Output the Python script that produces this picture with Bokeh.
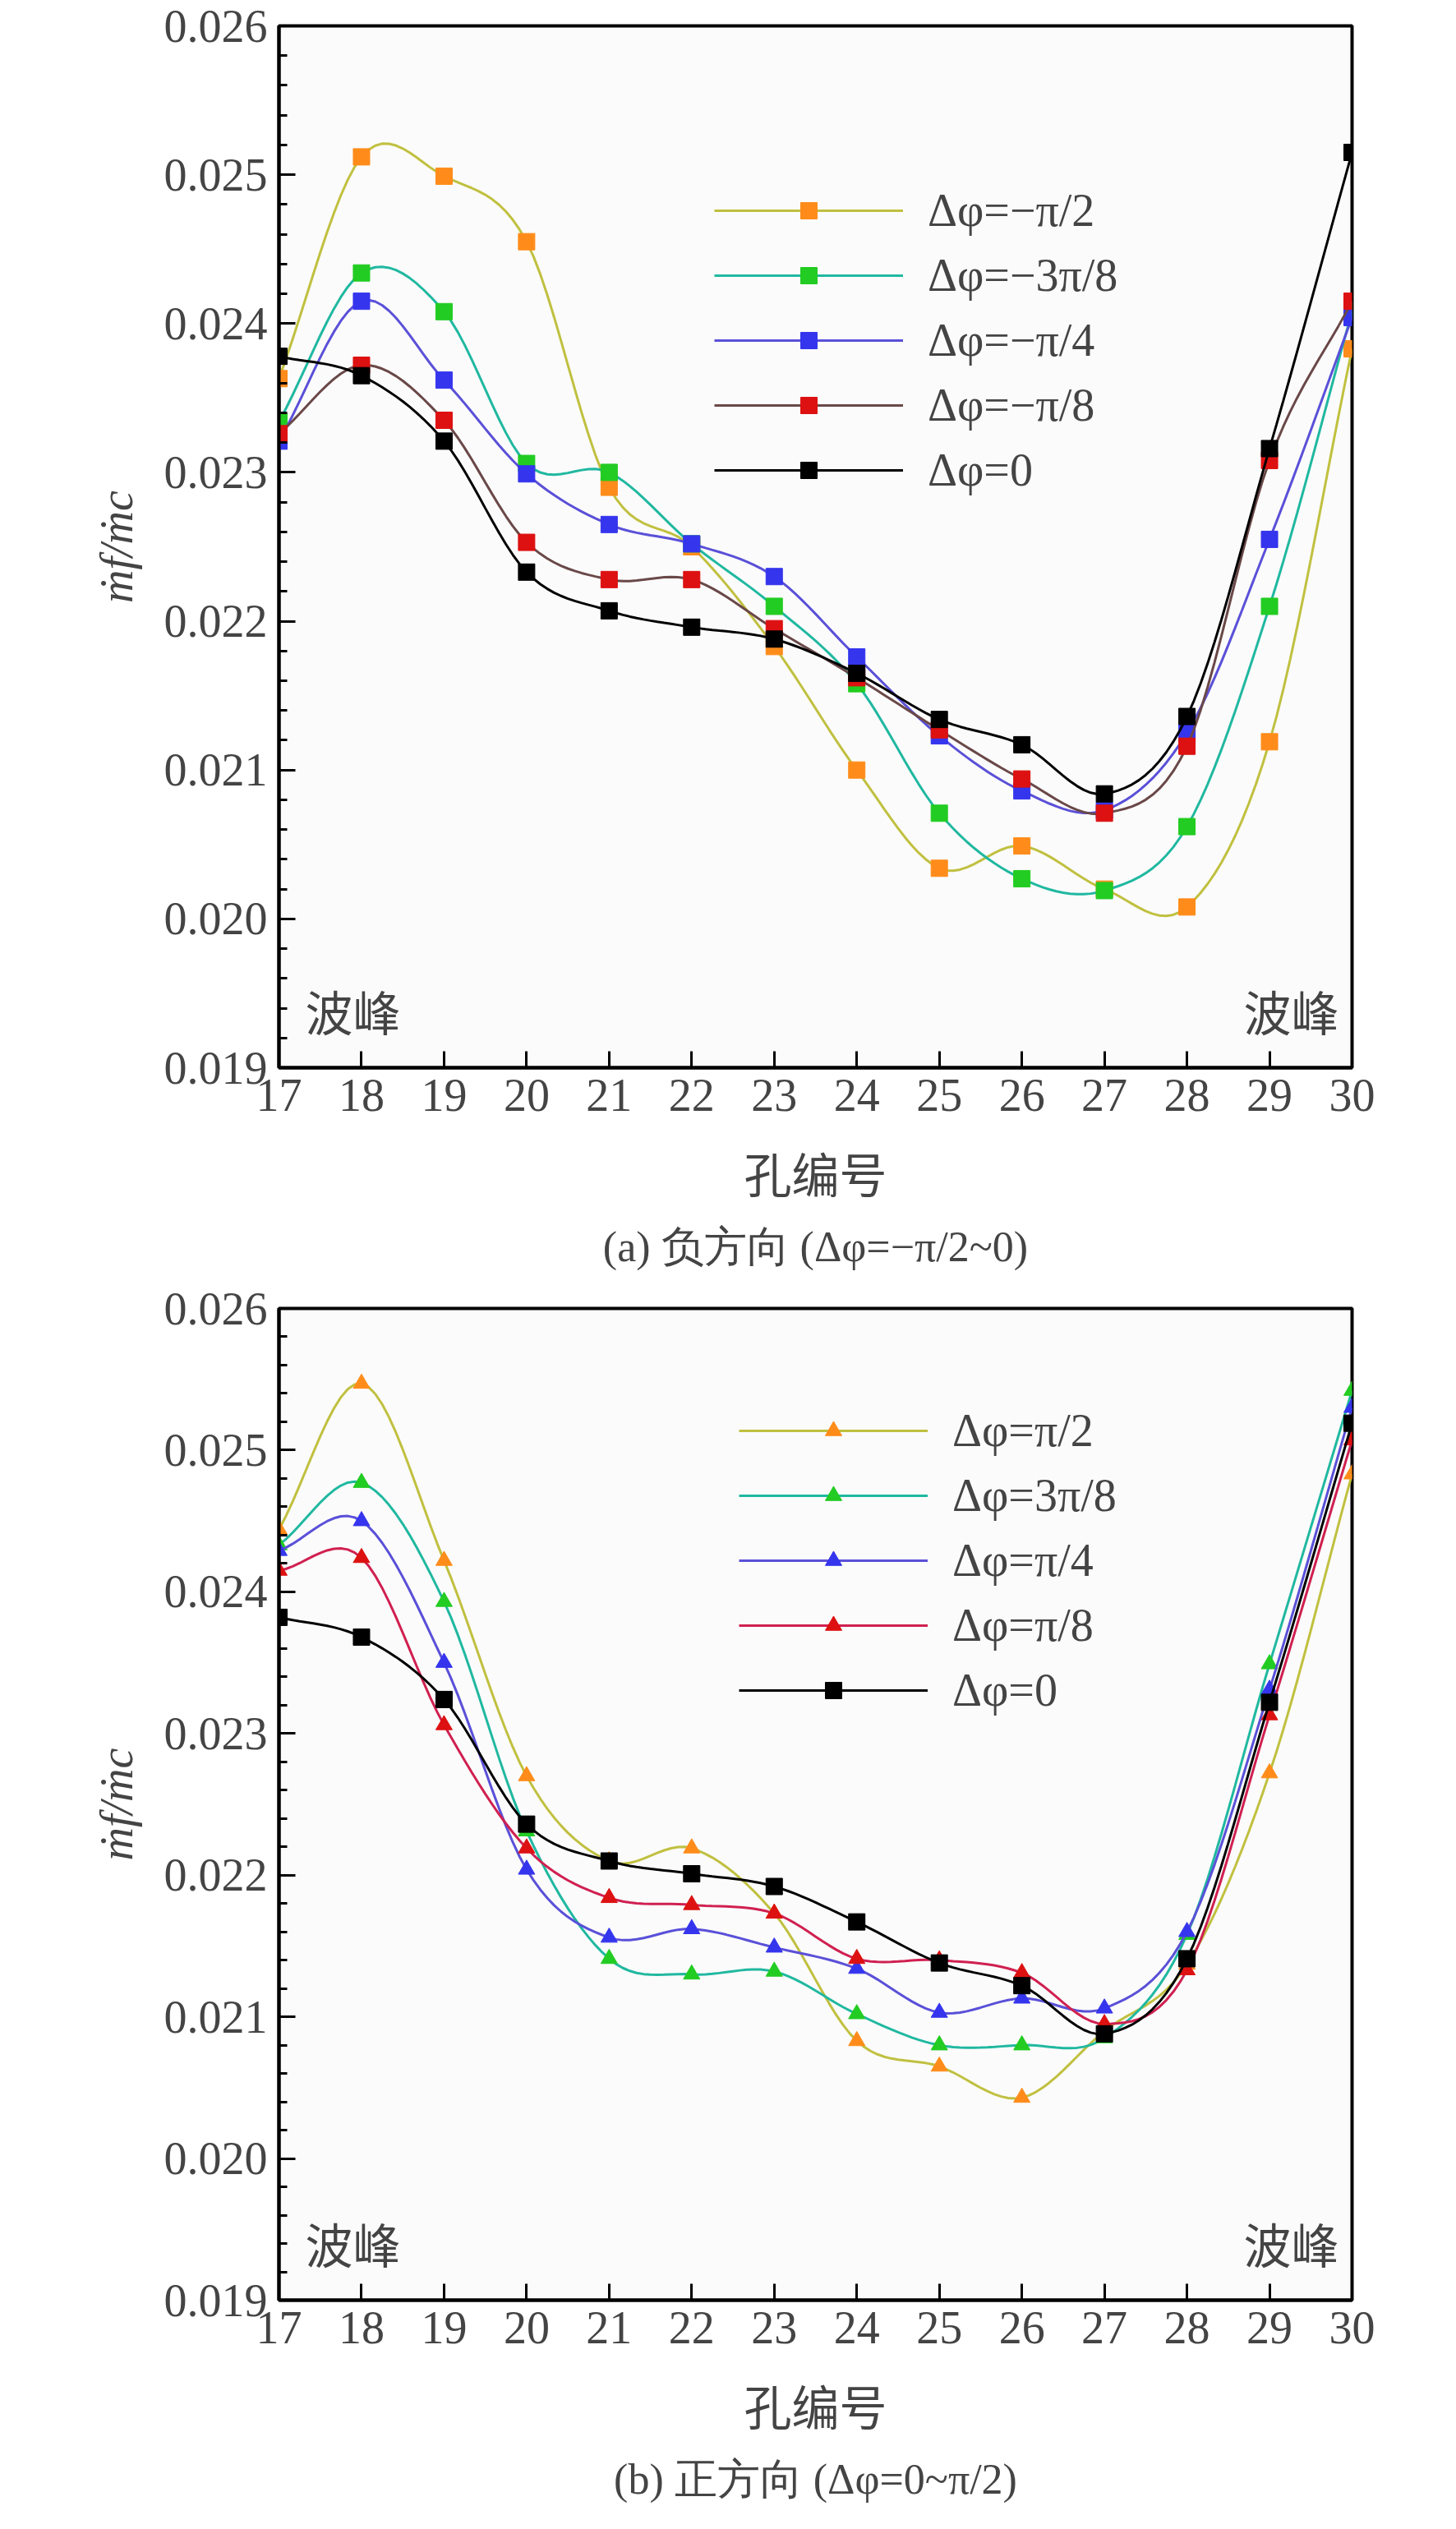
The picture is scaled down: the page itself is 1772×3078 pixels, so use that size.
import numpy as np
from bokeh.plotting import figure
from bokeh.layouts import column
from bokeh.models import (Label, Legend, LegendItem, SingleIntervalTicker, FixedTicker,
                          NumeralTickFormatter, Title)
from bokeh.embed import file_html
from bokeh.resources import INLINE

holes = list(range(17, 31))
y_ticks = [0.019, 0.020, 0.021, 0.022, 0.023, 0.024, 0.025, 0.026]

# (a) negative direction
neg_labels = ["Δφ=−π/2", "Δφ=−3π/8", "Δφ=−π/4", "Δφ=−π/8", "Δφ=0"]
neg_pi2 = [0.02363, 0.02512, 0.02499, 0.02455, 0.02290, 0.02250, 0.02183,
           0.02100, 0.02034, 0.02049, 0.02020, 0.02008, 0.02119, 0.02383]
neg_3pi8 = [0.02334, 0.02434, 0.02408, 0.02306, 0.02300, 0.02252, 0.02210,
            0.02158, 0.02071, 0.02027, 0.02019, 0.02062, 0.02210, 0.02408]
neg_pi4 = [0.02321, 0.02415, 0.02362, 0.02299, 0.02265, 0.02252, 0.02230,
           0.02176, 0.02123, 0.02086, 0.02073, 0.02125, 0.02255, 0.02404]
neg_pi8 = [0.02326, 0.02372, 0.02335, 0.02253, 0.02228, 0.02228, 0.02195,
           0.02162, 0.02127, 0.02094, 0.02071, 0.02116, 0.02308, 0.02415]
zero_a = [0.02378, 0.02365, 0.02321, 0.02233, 0.02207, 0.02196, 0.02188,
          0.02165, 0.02134, 0.02117, 0.02084, 0.02136, 0.02316, 0.02515]

# (b) positive direction
pos_labels = ["Δφ=π/2", "Δφ=3π/8", "Δφ=π/4", "Δφ=π/8", "Δφ=0"]
pos_pi2 = [0.02444, 0.02547, 0.02422, 0.02270, 0.02210, 0.02219, 0.02173,
           0.02083, 0.02065, 0.02043, 0.02090, 0.02137, 0.02272, 0.02483]
pos_3pi8 = [0.02433, 0.02477, 0.02393, 0.02231, 0.02141, 0.02130, 0.02132,
            0.02102, 0.02080, 0.02080, 0.02085, 0.02158, 0.02349, 0.02542]
pos_pi4 = [0.02429, 0.02450, 0.02350, 0.02204, 0.02156, 0.02162, 0.02149,
           0.02134, 0.02103, 0.02113, 0.02106, 0.02160, 0.02331, 0.02530]
pos_pi8 = [0.02415, 0.02424, 0.02306, 0.02219, 0.02184, 0.02179, 0.02173,
           0.02141, 0.02140, 0.02131, 0.02095, 0.02133, 0.02313, 0.02507]
zero_b = [0.02382, 0.02368, 0.02324, 0.02236, 0.02210, 0.02201, 0.02192,
          0.02167, 0.02138, 0.02122, 0.02088, 0.02141, 0.02322, 0.02519]

line_colors_a = ["#c0c040", "#20b8a0", "#5a50d8", "#6a4848", "#000000"]
line_colors_b = ["#c0c040", "#20b8a0", "#5a50d8", "#d02050", "#000000"]
marker_colors = ["#ff8c1a", "#22cc22", "#3535ee", "#dd1111", "#000000"]

SERIF = "Liberation Serif"
CJK = "Noto Sans CJK SC"


def smooth(x, y, n=12):
    # Catmull-Rom curve through the points, for drawing the line only
    x = np.asarray(x, float)
    y = np.asarray(y, float)
    px = np.concatenate([[2 * x[0] - x[1]], x, [2 * x[-1] - x[-2]]])
    py = np.concatenate([[2 * y[0] - y[1]], y, [2 * y[-1] - y[-2]]])
    xs, ys = [], []
    t = np.linspace(0, 1, n, endpoint=False)
    for i in range(1, len(px) - 2):
        for arr, out in ((px, xs), (py, ys)):
            p0, p1, p2, p3 = arr[i - 1], arr[i], arr[i + 1], arr[i + 2]
            out.extend(0.5 * (2 * p1 + (-p0 + p2) * t
                              + (2 * p0 - 5 * p1 + 4 * p2 - p3) * t ** 2
                              + (-p0 + 3 * p1 - 3 * p2 + p3) * t ** 3))
    xs.append(x[-1])
    ys.append(y[-1])
    return xs, ys


def make_panel(series, labels, line_colors, markers, caption, height, top_border,
               legend_x, legend_y):
    p = figure(width=1756, height=height, output_backend="svg", toolbar_location=None,
               tools="", x_range=(17, 30), y_range=(0.019, 0.026),
               min_border_left=339, min_border_right=111, min_border_top=top_border,
               min_border_bottom=40)
    p.background_fill_color = "#fbfbfb"
    p.grid.visible = False
    p.outline_line_color = "black"
    p.outline_line_width = 4
    for ax in (p.xaxis[0], p.yaxis[0]):
        ax.axis_line_width = 4
        ax.major_label_text_font = SERIF
        ax.major_label_text_font_size = "56px"
        ax.major_tick_in = 20
        ax.major_tick_out = 0
        ax.minor_tick_in = 10
        ax.minor_tick_out = 0
        ax.major_tick_line_width = 3
        ax.minor_tick_line_width = 3
        ax.axis_label_text_font_style = "normal"
    p.xaxis.ticker = SingleIntervalTicker(interval=1, num_minor_ticks=0)
    minor = [round(0.019 + 0.0002 * k, 4) for k in range(36)]
    p.yaxis.ticker = FixedTicker(ticks=y_ticks, minor_ticks=minor)
    p.yaxis.formatter = NumeralTickFormatter(format="0.000")
    p.yaxis.major_label_standoff = 14
    p.xaxis.major_label_standoff = 14
    p.xaxis.axis_label = "孔编号"
    p.xaxis.axis_label_text_font = CJK
    p.xaxis.axis_label_text_font_size = "58px"
    p.xaxis.axis_label_standoff = 30
    p.yaxis.axis_label = "ṁf/ṁc"
    p.yaxis.axis_label_text_font = SERIF
    p.yaxis.axis_label_text_font_style = "italic"
    p.yaxis.axis_label_text_font_size = "56px"
    p.yaxis.axis_label_standoff = 24

    items = []
    for i, (ys, lab) in enumerate(zip(series, labels)):
        sx, sy = smooth(holes, ys)
        r1 = p.line(sx, sy, line_color=line_colors[i], line_width=3)
        kw = dict(size=20, fill_color=marker_colors[i], line_color=marker_colors[i])
        r2 = p.scatter(holes, ys, marker=markers[i], **kw)
        items.append(LegendItem(label=lab, renderers=[r1, r2]))
    leg = Legend(items=items, location=(legend_x, legend_y), label_text_font=SERIF,
                 label_text_font_size="56px", glyph_width=230, glyph_height=50,
                 label_height=50, spacing=15, border_line_color=None,
                 background_fill_alpha=0, padding=4, label_standoff=30)
    p.add_layout(leg)

    p.add_layout(Label(x=17, y=0.019, x_offset=32, y_offset=28, text="波峰",
                       text_font=CJK, text_font_size="58px"))
    p.add_layout(Label(x=30, y=0.019, x_offset=-16, y_offset=28, text="波峰",
                       text_font=CJK, text_font_size="58px", text_align="right"))
    p.add_layout(Title(text=caption, text_font=SERIF, text_font_size="52px",
                       text_font_style="normal", align="center", offset=140,
                       standoff=30), "below")
    return p


p1 = make_panel([neg_pi2, neg_3pi8, neg_pi4, neg_pi8, zero_a], neg_labels, line_colors_a,
                ["square"] * 5, "(a) 负方向 (Δφ=−π/2~0)", 1560, 31, 530, 695)
p2 = make_panel([pos_pi2, pos_3pi8, pos_pi4, pos_pi8, zero_b], pos_labels, line_colors_b,
                ["triangle"] * 4 + ["square"], "(b) 正方向 (Δφ=0~π/2)", 1500, 32, 560, 710)

layout = column(p1, p2, spacing=0)
open("out.html", "w").write(file_html(layout, INLINE))
